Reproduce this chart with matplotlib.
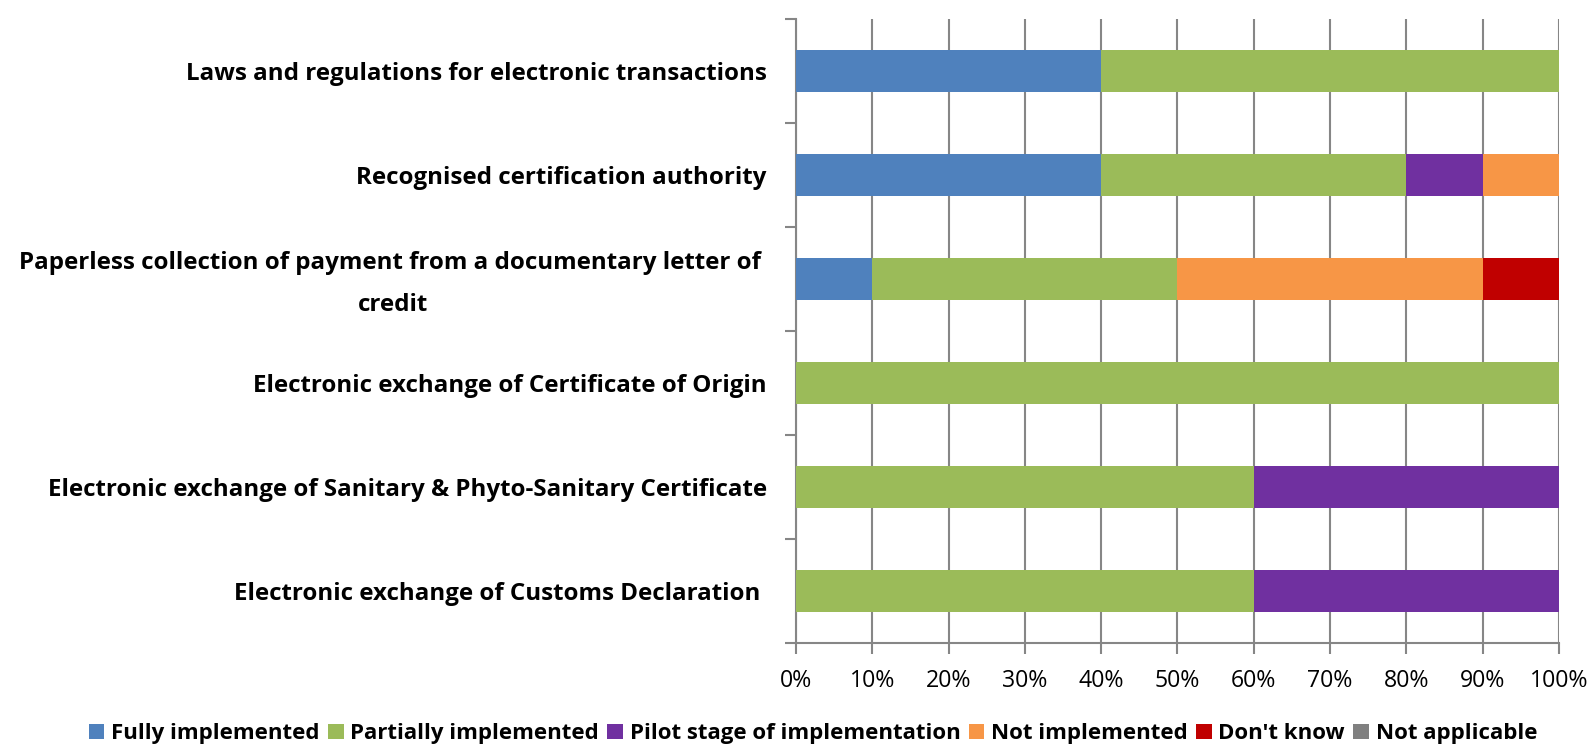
import numpy as np
import matplotlib.pyplot as plt
import matplotlib.transforms as mtransforms

plt.rcParams['font.family'] = ['Open Sans', 'DejaVu Sans']

categories = [
    "Laws and regulations for electronic transactions",
    "Recognised certification authority",
    "Paperless collection of payment from a documentary letter of \ncredit",
    "Electronic exchange of Certificate of Origin",
    "Electronic exchange of Sanitary & Phyto-Sanitary Certificate",
    "Electronic exchange of Customs Declaration ",
]
series = ["Fully implemented", "Partially implemented", "Pilot stage of implementation",
          "Not implemented", "Don't know", "Not applicable"]
fully = [40, 40, 10, 0, 0, 0]
partial = [60, 40, 40, 100, 60, 60]
pilot = [0, 10, 0, 0, 40, 40]
not_impl = [0, 10, 40, 0, 0, 0]
dont_know = [0, 0, 10, 0, 0, 0]
not_appl = [0, 0, 0, 0, 0, 0]
colors = ["#4F81BD", "#9BBB59", "#7030A0", "#F79646", "#C00000", "#808080"]

values = [fully, partial, pilot, not_impl, dont_know, not_appl]

fig = plt.figure(figsize=(15.91, 7.44), dpi=100)
ax = fig.add_axes([0.5003, 0.1358, 0.4796, 0.8387])

y = np.arange(len(categories))[::-1]
left = np.zeros(len(categories))
for name, vals, c in zip(series, values, colors):
    ax.barh(y, vals, left=left, height=0.4, color=c, label=name, zorder=3)
    left += np.array(vals)

ax.set_xlim(0, 100)
ax.set_ylim(-0.5, len(categories) - 0.5)
ax.set_xticks(np.arange(0, 101, 10))
ax.set_xticklabels([f"{v}%" for v in range(0, 101, 10)], fontsize=16.7)
ax.set_yticks(y)
ax.set_yticklabels(categories, fontsize=17.4, fontweight='bold',
                   multialignment='center', linespacing=2.0)
ax.set_yticks(np.arange(-0.5, len(categories), 1), minor=True)
ax.tick_params(axis='y', which='major', length=0, pad=21)
ax.tick_params(axis='y', which='minor', length=8, width=1.5, color='#868686')
ax.tick_params(axis='x', length=8, width=1.5, color='#868686', pad=11)
ax.grid(axis='x', color='#868686', linewidth=1.5, zorder=0)
for s in ['top', 'right']:
    ax.spines[s].set_visible(False)
for s in ['left', 'bottom']:
    ax.spines[s].set_color('#868686')
    ax.spines[s].set_linewidth(1.5)

# nudge the two-line label up a little, as in the original
shift = mtransforms.ScaledTranslation(0, 5 / 72, fig.dpi_scale_trans)
for lab in ax.get_yticklabels():
    if "\n" in lab.get_text():
        lab.set_transform(lab.get_transform() + shift)

fig.legend(loc='center', bbox_to_anchor=(0.511, 0.014), ncol=6, frameon=False,
           prop={'weight': 'bold', 'size': 16}, handlelength=0.7, handleheight=0.7,
           handletextpad=0.3, columnspacing=0.38, borderaxespad=0, borderpad=0)

fig.savefig("out.png", dpi=100)
